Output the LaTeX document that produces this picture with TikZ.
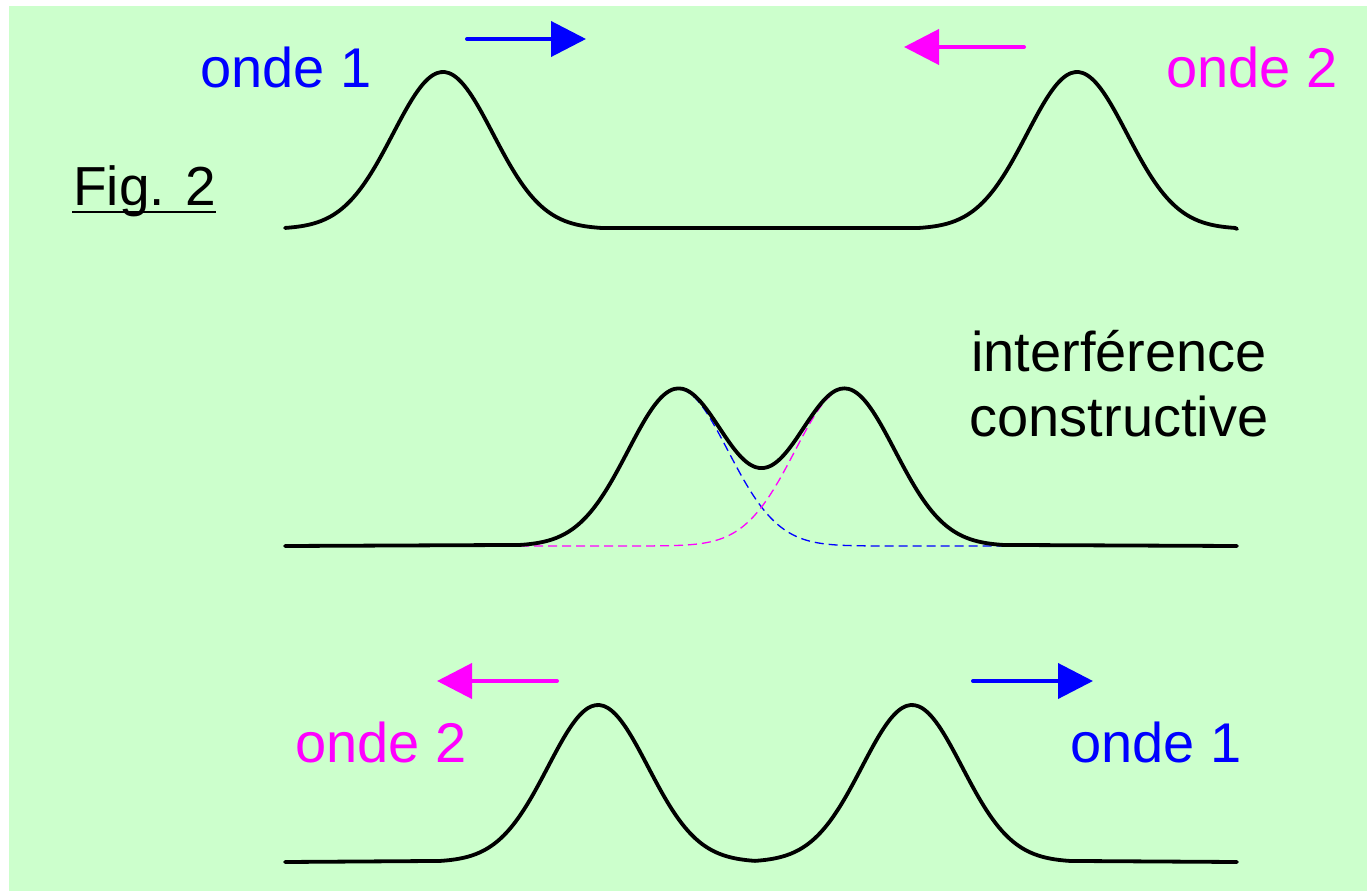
\documentclass[tikz,border=0pt]{standalone}
\usepackage{fontspec}
\setmainfont{Liberation Sans}
\usetikzlibrary{arrows.meta}
\definecolor{fond}{HTML}{CCFFCC}
\definecolor{bleu}{RGB}{0,0,255}
\definecolor{rose}{RGB}{255,0,255}

\begin{document}
\begin{tikzpicture}[x=1pt,y=-1pt,
    onde/.style={line width=3.8pt,line cap=round,line join=round},
    trait/.style={line width=1.3pt,dash pattern=on 9pt off 5pt},
    fleche/.style={line width=4pt,line cap=round,-{Triangle[length=35pt,width=35pt]}},
    etiq/.style={inner sep=0pt,anchor=base west,font=\fontsize{56}{60}\selectfont},
    declare function={gau(\t)=exp(-0.5*(\t)*(\t));}]
    \useasboundingbox (0,0) rectangle (1367,891);
    \fill[fond] (9,6) rectangle (1367,891);

    % largeur d'une impulsion (sigma) et hauteur
    \def\sig{50}
    \def\haut{157}

    % Ligne 1 : les deux ondes avant la rencontre
    \node[etiq,bleu] (o1h) at (200,88) {onde 1};
    \node[etiq,rose] (o2h) at (1166,88) {onde 2};
    \node[etiq,font=\fontsize{55}{60}\selectfont] (fig) at (73,205) {Fig. 2};
    \draw[line width=2.8pt] ([xshift=-1pt,yshift=-7pt]fig.base west) -- ([yshift=-7pt]fig.base east);

    \coordinate (f1a) at (467,39);
    \coordinate (f1b) at (586,39);
    \draw[fleche,bleu] (f1a) -- (f1b);
    \coordinate (f2a) at (1024,47);
    \coordinate (f2b) at (904,47);
    \draw[fleche,rose] (f2a) -- (f2b);

    \draw[onde] plot[smooth,samples=80,domain=-3.16:3.16] ({443+\sig*\x},{229-\haut*gau(\x)})
      -- plot[smooth,samples=80,domain=-3.16:3.16] ({1077+\sig*\x},{229-\haut*gau(\x)})
      -- (1237,229);

    % Ligne 2 : superposition
    \node[inner sep=0pt,anchor=base,font=\fontsize{56}{60}\selectfont] (inter) at (1119,371) {interférence};
    \node[inner sep=0pt,anchor=base,font=\fontsize{56}{60}\selectfont] (constr) at (1119,436) {constructive};

    \draw[trait,bleu] plot[smooth,samples=100,domain=-3.16:6.5] ({678+\sig*\x},{546-\haut*gau(\x)});
    \draw[trait,rose] plot[smooth,samples=100,domain=-3.16:6.5] ({678+\sig*\x},{546-\haut*gau(\x-3.34)});
    \draw[onde] (285,546)
      -- plot[smooth,samples=120,domain=-3.16:6.5] ({678+\sig*\x},{546-\haut*(gau(\x)+gau(\x-3.34))})
      -- (1237,546);

    % Ligne 3 : apres la rencontre
    \coordinate (f3a) at (557,681);
    \coordinate (f3b) at (437,681);
    \draw[fleche,rose] (f3a) -- (f3b);
    \coordinate (f4a) at (973,681);
    \coordinate (f4b) at (1093,681);
    \draw[fleche,bleu] (f4a) -- (f4b);
    \node[etiq,rose] (o2b) at (295,762) {onde 2};
    \node[etiq,bleu] (o1b) at (1070,762) {onde 1};

    \draw[onde] (285,862)
      -- plot[smooth,samples=80,domain=-3.16:3.14] ({598+\sig*\x},{862-\haut*gau(\x)})
      -- plot[smooth,samples=80,domain=-3.14:3.16] ({912+\sig*\x},{862-\haut*gau(\x)})
      -- (1237,862);
  \end{tikzpicture}
\end{document}
